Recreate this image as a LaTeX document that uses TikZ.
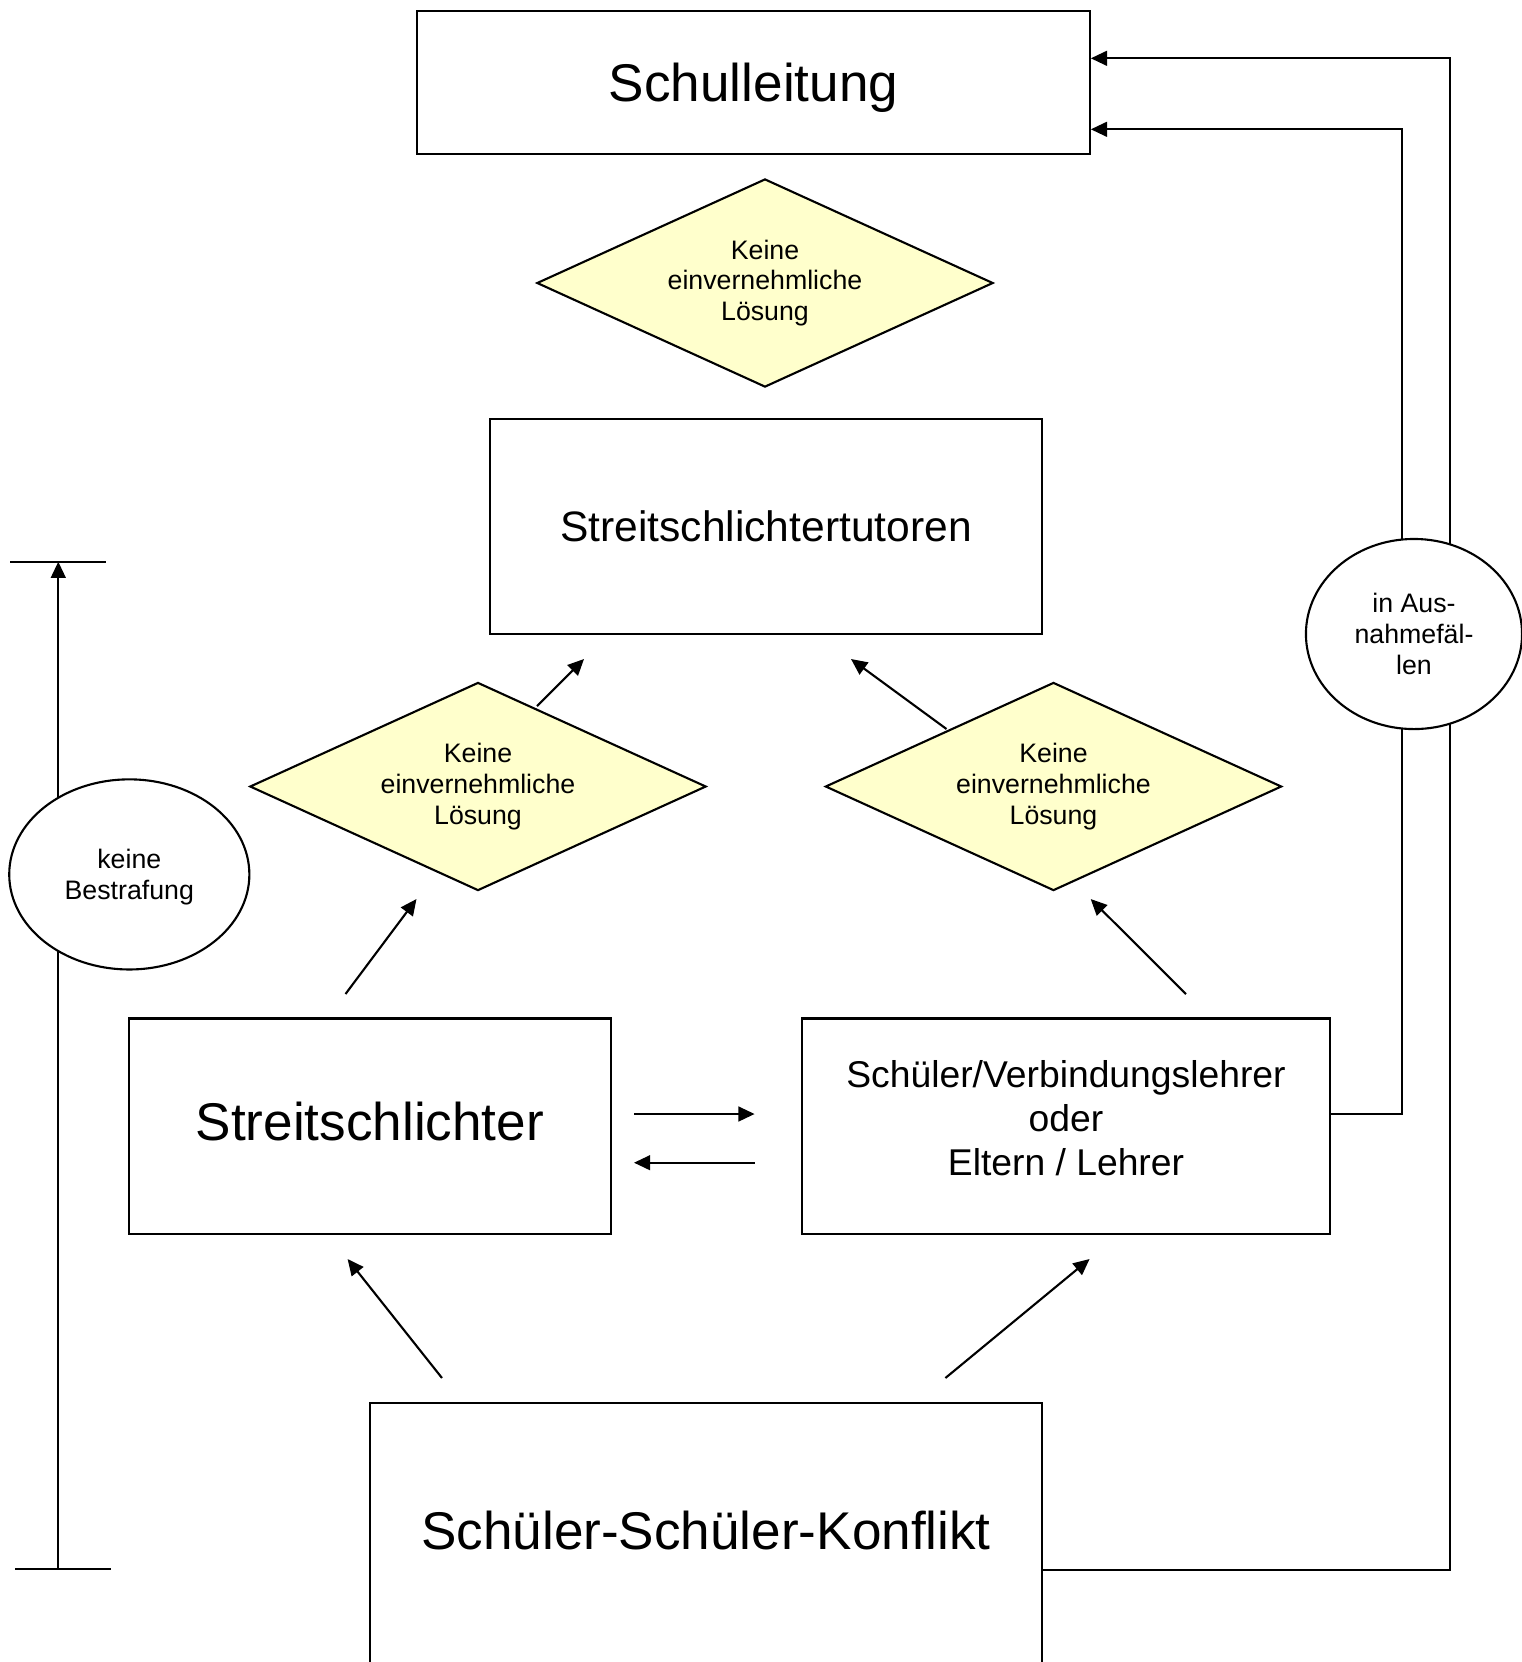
\documentclass[tikz,border=0pt]{standalone}
\usepackage{fontspec}
\setmainfont{Liberation Sans}
\usetikzlibrary{shapes.geometric,arrows.meta}

\definecolor{rautengelb}{RGB}{255,255,204}

\tikzset{
  kasten/.style={draw, rectangle, line width=0.6pt, inner sep=0pt},
  gross/.style={font=\fontsize{15.1}{18}\selectfont},
  entscheidung/.style={draw, diamond, shape aspect=2.19, fill=rautengelb, line width=0.6pt, inner sep=0pt, minimum width=4.56cm, minimum height=2.08cm, align=center, font=\fontsize{7.6}{8.7}\selectfont},
  hinweis/.style={draw, ellipse, fill=white, line width=0.6pt, inner sep=0pt, minimum height=1.9cm, align=center, font=\fontsize{7.6}{8.7}\selectfont},
  pfeil/.style={line width=0.6pt, -{Triangle[length=4.6pt,width=4.2pt]}},
  strich/.style={line width=0.6pt}
}

\begin{document}
\begin{tikzpicture}[x=0.01cm, y=-0.01cm]
\useasboundingbox (0,0) rectangle (1522,1662);
\clip (0,0) rectangle (1522,1662);

\node[kasten, gross, text depth=0pt, minimum width=6.72cm, minimum height=1.43cm] (schulleitung) at (753.6,82.2) {Schulleitung};
\node[entscheidung] (raute oben) at (765,283) {Keine\\einvernehmliche\\Lösung};
\node[kasten, font=\fontsize{12.1}{14}\selectfont, minimum width=5.52cm, minimum height=2.15cm] (tutoren) at (766,526.5) {Streitschlichtertutoren};
\node[entscheidung] (raute links) at (478,786.5) {Keine\\einvernehmliche\\Lösung};
\node[entscheidung] (raute rechts) at (1053.5,786.5) {Keine\\einvernehmliche\\Lösung};
\node[kasten, gross, minimum width=4.815cm, minimum height=2.15cm] (schlichter) at (369.8,1126) {};
\node[gross] (schlichtertext) at (369.8,1121.5) {Streitschlichter};
\node[kasten, minimum width=5.28cm, minimum height=2.15cm] (eltern) at (1066,1126) {};
\node[align=center, font=\fontsize{10.6}{12.5}\selectfont] (elterntext) at (1066,1118.5) {Schüler/Verbindungslehrer\\oder\\Eltern / Lehrer};
\node[kasten, minimum width=6.72cm, minimum height=3.334cm, anchor=north] (konflikt) at (706,1402) {};
\node[gross] (konflikttext) at (706,1530.5) {Schüler-Schüler-Konflikt};

\coordinate (aussen) at (1450,58.3);
\coordinate (innen) at (1402.3,129.3);
\coordinate (elternaus) at (1330,1114);
\draw[pfeil] (konflikt.east) -| (aussen) -- (aussen -| schulleitung.east);
\draw[pfeil] (elternaus) -| (innen) -- (innen -| schulleitung.east);

\coordinate (balken oben) at (58.3,561.7);
\coordinate (balken unten) at (58.3,1568.7);
\draw[pfeil] (balken unten) -- (balken oben);
\draw[strich] (balken oben) ++(-48.3,0) -- ++(96,0);
\draw[strich] (balken unten) ++(-43.3,0) -- ++(96,0);

\coordinate (s1) at (345.5,994);
\coordinate (z1) at (416.5,899);
\coordinate (s2) at (537,706);
\coordinate (z2) at (584,659);
\coordinate (s3) at (946.5,729);
\coordinate (z3) at (851,659);
\coordinate (s4) at (1186,994);
\coordinate (z4) at (1090.7,899);
\coordinate (s5) at (442,1378);
\coordinate (z5) at (347.6,1259);
\coordinate (s6) at (945.4,1378);
\coordinate (z6) at (1089.6,1259);
\coordinate (s7) at (634,1114);
\coordinate (z7) at (754.6,1114);
\coordinate (s8) at (754.6,1162.7);
\coordinate (z8) at (634,1162.7);
\foreach \n in {1,...,8}
  \draw[pfeil] (s\n) -- (z\n);

\node[hinweis, text depth=0pt, minimum width=2.4cm] (bestrafung) at (129.3,874.4) {keine\\Bestrafung};
\node[hinweis, minimum width=2.16cm] (ausnahme) at (1414,634) {in Aus-\\nahmefäl-\\len};

\end{tikzpicture}
\end{document}
